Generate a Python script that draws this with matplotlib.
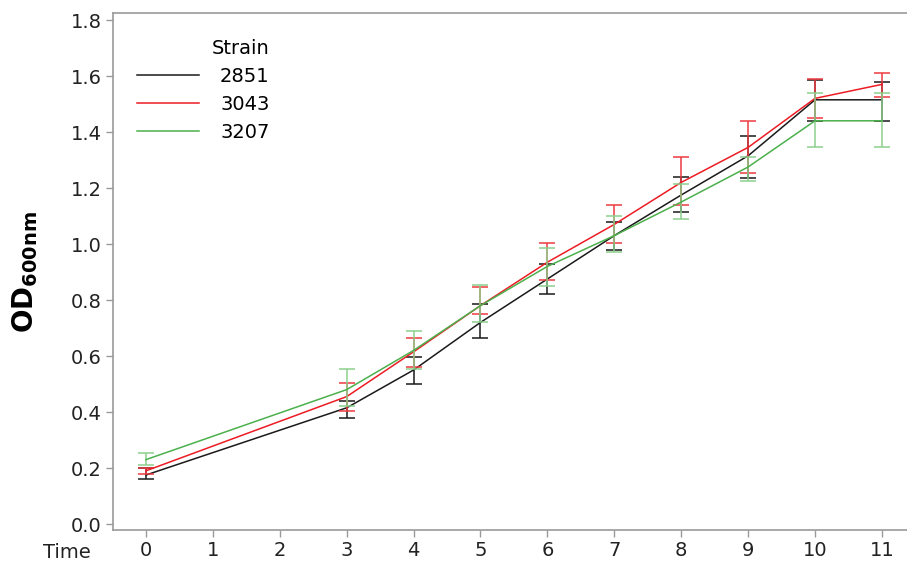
import matplotlib
matplotlib.use("Agg")
import matplotlib.pyplot as plt
import numpy as np

# time points (h) and OD600 readings per strain
time = [0, 3, 4, 5, 6, 7, 8, 9, 10, 11]
strains = ["2851", "3043", "3207"]

od_2851 = [0.175, 0.415, 0.55, 0.72, 0.875, 1.03, 1.175, 1.315, 1.515, 1.515]
lo_2851 = [0.16, 0.38, 0.50, 0.665, 0.82, 0.98, 1.115, 1.235, 1.44, 1.44]
hi_2851 = [0.20, 0.44, 0.595, 0.785, 0.93, 1.08, 1.24, 1.385, 1.585, 1.58]

od_3043 = [0.19, 0.455, 0.615, 0.78, 0.935, 1.07, 1.22, 1.345, 1.52, 1.57]
lo_3043 = [0.18, 0.405, 0.56, 0.75, 0.87, 1.005, 1.14, 1.255, 1.45, 1.525]
hi_3043 = [0.20, 0.505, 0.665, 0.845, 1.005, 1.14, 1.31, 1.44, 1.59, 1.61]

od_3207 = [0.23, 0.48, 0.62, 0.78, 0.92, 1.03, 1.15, 1.275, 1.44, 1.44]
lo_3207 = [0.21, 0.42, 0.555, 0.72, 0.85, 0.97, 1.09, 1.225, 1.345, 1.345]
hi_3207 = [0.255, 0.555, 0.69, 0.855, 0.985, 1.10, 1.215, 1.31, 1.54, 1.54]

xticks = list(range(12))
yticks = [0.0, 0.2, 0.4, 0.6, 0.8, 1.0, 1.2, 1.4, 1.6, 1.8]

series = [
    (od_2851, lo_2851, hi_2851, "#1a1a1a", "#1a1a1a"),
    (od_3043, lo_3043, hi_3043, "#ec1c24", "#ec3a40"),
    (od_3207, lo_3207, hi_3207, "#4cb04c", "#8ccf8c"),
]

fig = plt.figure(figsize=(9.07, 5.67), dpi=100)
W, H = 907, 567
ax = fig.add_axes([113 / W, 37 / H, (907 - 113) / W, (530 - 13) / H])

for (od, lo, hi, col, ecol), name in zip(series, strains):
    od = np.array(od)
    yerr = [od - np.array(lo), np.array(hi) - od]
    ax.errorbar(time, od, yerr=yerr, fmt="none", ecolor=ecol, elinewidth=1.1,
                capsize=5.5, capthick=1.1)
    ax.plot(time, od, color=col, lw=1.1, label=name)

ax.set_xlim(-0.493, 11.375)
ax.set_ylim(-0.0214, 1.825)
ax.set_xticks(xticks)
ax.set_yticks(yticks)
ax.set_yticklabels([f"{v:.1f}" for v in yticks])

for s in ["top", "left", "bottom"]:
    ax.spines[s].set_color("#9a9a9a")
    ax.spines[s].set_linewidth(1.2)
ax.spines["right"].set_visible(False)
ax.tick_params(axis="both", colors="#9a9a9a", length=5, width=1,
               labelsize=14, labelcolor="#222222", pad=3)

ax.set_xlabel("Time", fontsize=14, color="#222222")
ax.xaxis.set_label_coords((67 - 113) / (907 - 113), -0.026, transform=ax.transAxes)
ax.xaxis.label.set_verticalalignment("top")

ax.set_ylabel(r"OD$_{\mathbf{600nm}}$", fontsize=20, fontweight="bold", color="black")
ax.yaxis.set_label_coords((40 - 113) / (907 - 113), 0.5)

leg = ax.legend(title="Strain", frameon=False, fontsize=14, title_fontsize=14,
                loc="upper left", bbox_to_anchor=(119 / W, 1 - 22 / H),
                bbox_transform=fig.transFigure, handlelength=3.2,
                handletextpad=1.1, labelspacing=0.45, alignment="right")

plt.savefig("out.png", dpi=100)
